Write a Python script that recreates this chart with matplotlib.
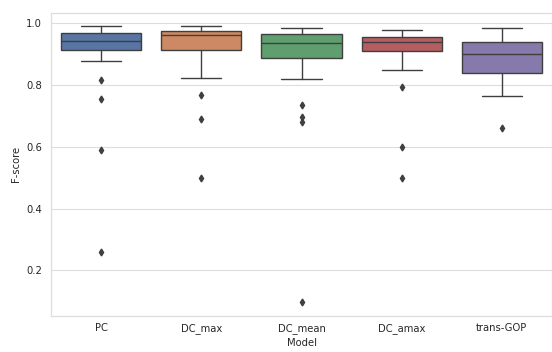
import matplotlib
matplotlib.use("Agg")
import matplotlib.pyplot as plt
import seaborn as sns

models = ["PC", "DC_max", "DC_mean", "DC_amax", "trans-GOP"]
whislo = [0.878, 0.823, 0.820, 0.848, 0.766]
q1 = [0.913, 0.912, 0.888, 0.911, 0.840]
med = [0.944, 0.961, 0.937, 0.939, 0.900]
q3 = [0.967, 0.975, 0.965, 0.956, 0.939]
whishi = [0.990, 0.990, 0.986, 0.979, 0.983]
fliers = [
    [0.817, 0.754, 0.591, 0.261],
    [0.768, 0.690, 0.500],
    [0.735, 0.697, 0.681, 0.097],
    [0.794, 0.599, 0.500],
    [0.661],
]

sns.set_theme(style="whitegrid")
plt.rcParams['font.family'] = ['DejaVu Sans']

fig = plt.figure(figsize=(5.52, 3.52), dpi=100)
ax = fig.add_axes([51/552, 1 - 315.7/352, 501/552, (315.7 - 12.7)/352])

palette = [sns.desaturate(c, 0.75) for c in sns.color_palette("deep", 5)]
line_gray = "#3f3f3f"
lw = 1.0

stats = []
for i, m in enumerate(models):
    stats.append(dict(label=m, whislo=whislo[i], q1=q1[i], med=med[i], q3=q3[i],
                      whishi=whishi[i], fliers=fliers[i]))

bp = ax.bxp(stats, positions=range(len(models)), widths=0.8, patch_artist=True,
            showfliers=True,
            boxprops=dict(edgecolor=line_gray, linewidth=lw),
            medianprops=dict(color=line_gray, linewidth=lw),
            whiskerprops=dict(color=line_gray, linewidth=lw),
            capprops=dict(color=line_gray, linewidth=lw),
            capwidths=0.4,
            flierprops=dict(marker="d", markerfacecolor=line_gray, markeredgecolor=line_gray,
                            markersize=3.5, linestyle="none"))
for patch, c in zip(bp["boxes"], palette):
    patch.set_facecolor(c)

ax.set_xlim(-0.5, 4.5)
ax.set_ylim(0.0535, 1.034)
ax.set_yticks([0.2, 0.4, 0.6, 0.8, 1.0])
ax.set_xticks(range(len(models)))
ax.set_xticklabels(models)
ax.xaxis.grid(False)
ax.yaxis.grid(True, color="#dddddd", linewidth=0.8)
for s in ax.spines.values():
    s.set_color("#dddddd")
    s.set_linewidth(0.9)
ax.set_axisbelow(True)
ax.tick_params(labelsize=7.2, length=0)
ax.tick_params(axis="x", pad=5.5)
ax.tick_params(axis="y", pad=6.5)
ax.set_xlabel("Model", fontsize=7.2, labelpad=2.5)
ax.set_ylabel("F-score", fontsize=7.2, labelpad=4)

fig.savefig("out.png", dpi=100)
